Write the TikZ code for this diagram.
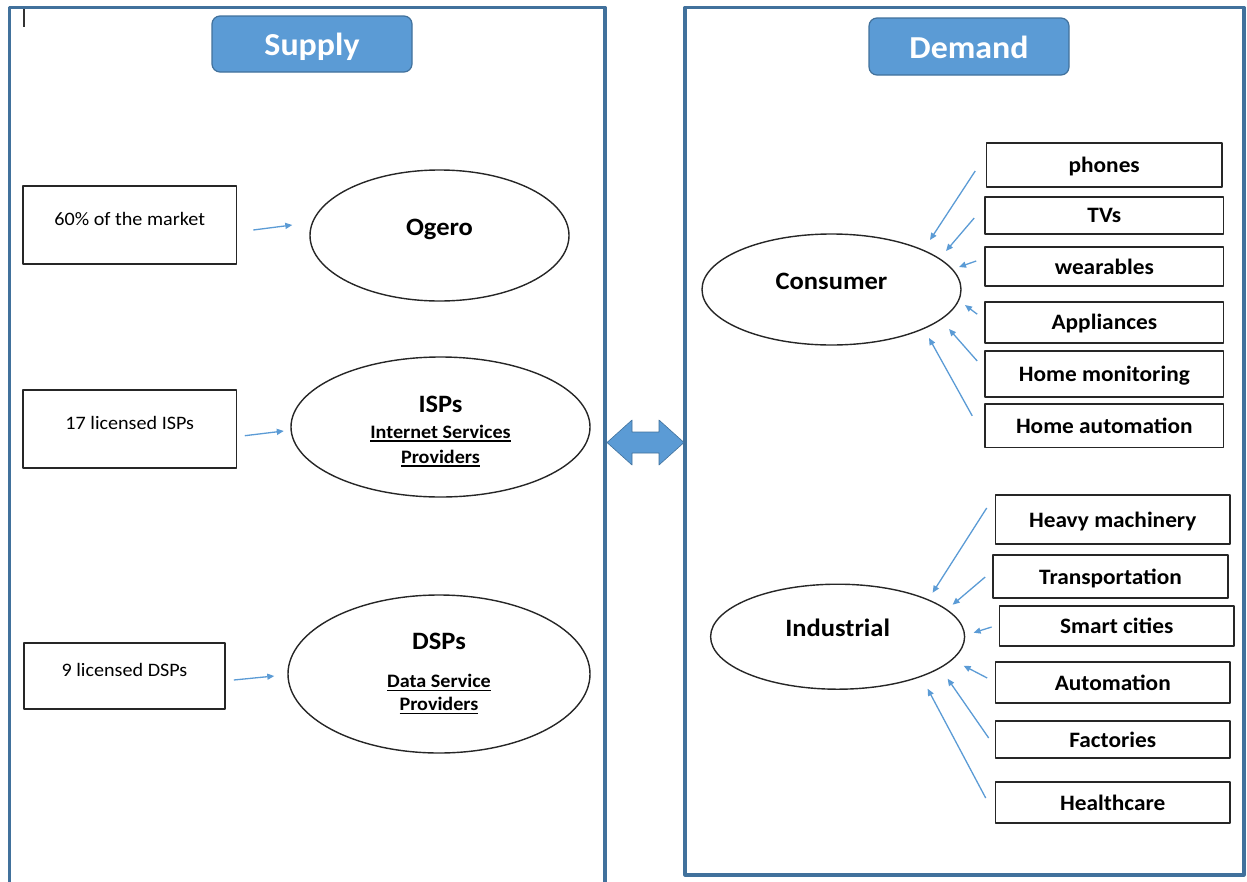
\documentclass[tikz,border=0pt]{standalone}
\usepackage{fontspec}
\setmainfont[FakeStretch=1.06]{Carlito}
\usetikzlibrary{arrows.meta,shapes.geometric}
\definecolor{frameblue}{HTML}{41719C}
\definecolor{fillblue}{HTML}{5B9BD5}
\newcommand{\undertext}[1]{\setbox0\hbox{#1}\rlap{\vrule width\wd0 height -2pt depth 3.5pt}\box0}

\begin{document}
\begin{tikzpicture}[x=1pt,y=-1pt,line join=round,
  panel/.style={draw=frameblue,line width=3.2pt},
  header/.style={draw=frameblue,fill=fillblue,line width=1.2pt,rounded corners=8pt,text=white,inner sep=0pt,font=\fontsize{32}{36}\selectfont\bfseries,text height=29pt,text depth=6pt},
  leftbox/.style={draw=black!85,line width=1.6pt,inner sep=0pt,font=\fontsize{19}{22}\selectfont,text height=10pt,text depth=10pt},
  oval/.style={ellipse,draw=black!85,line width=1.4pt,inner sep=0pt,align=center},
  single/.style={font=\fontsize{25}{26}\selectfont\bfseries,text height=12pt,text depth=12pt},
  itembox/.style={draw=black!85,line width=1.6pt,inner sep=0pt,font=\fontsize{22}{24}\selectfont\bfseries,text height=17pt,text depth=2pt},
  feed/.style={draw=fillblue,line width=1.3pt,-{Triangle[length=7pt,width=6pt]}}]
\useasboundingbox (0,0) rectangle (1247,881);
% panels
\draw[panel] (9.5,7.5) rectangle (605,895);
\draw[panel] (685,7.5) rectangle (1244,875);
\draw[line width=1.2pt,black!80] (24,9) -- (24,27);
\node[header,minimum width=200pt,minimum height=56pt] (supply) at (312,44) {Supply};
\node[header,minimum width=200pt,minimum height=57pt] (demand) at (969,46.5) {Demand};
% supply side
\node[leftbox,minimum width=213.5pt,minimum height=78pt] (share) at (129.75,225) {60\% of the market};
\node[leftbox,minimum width=213.5pt,minimum height=77.7pt] (isplic) at (129.75,429) {17 licensed ISPs};
\node[leftbox,minimum width=201pt,minimum height=66pt] (dsplic) at (124.5,676) {9 licensed DSPs};
\node[oval,single,minimum width=259pt,minimum height=131pt] (ogero) at (439.5,235.5) {Ogero};
\node[oval,minimum width=299pt,minimum height=140pt,font=\fontsize{19}{25}\selectfont\bfseries] (isp) at (440.5,427) {{\fontsize{25}{26}\selectfont\rule{0pt}{25pt}ISPs}\\[1pt]\undertext{Internet Services}\\\undertext{Providers}};
\node[oval,minimum width=302pt,minimum height=158pt,font=\fontsize{19}{23}\selectfont\bfseries] (dsp) at (439,674) {{\fontsize{25}{26}\selectfont DSPs}\\[15pt]\undertext{Data Service}\\\undertext{Providers}};
\draw[feed] ([shift={(16,5)}]share.east) -- ([shift={(-17,-10.5)}]ogero.west);
\draw[feed] ([shift={(7.5,6.7)}]isplic.east) -- ([shift={(-6.5,4)}]isp.west);
\draw[feed] ([shift={(8,4)}]dsplic.east) -- ([shift={(-13,2)}]dsp.west);
% link between the panels
\fill[fillblue,draw=frameblue,line width=0.6pt] (607,442.5) -- (632,420) -- (632,432) -- (659,432) -- (659,420) -- (684,442.5) -- (659,465) -- (659,453) -- (632,453) -- (632,465) -- cycle;
% demand side: consumer
\node[oval,single,minimum width=259pt,minimum height=111pt] (cons) at (831.5,289.5) {Consumer};
\node[itembox,minimum width=235.2pt,minimum height=44pt] (phones) at (1104.2,165) {phones};
\node[itembox,minimum width=238.6pt,minimum height=37.3pt] (tvs) at (1104.3,215.4) {TVs};
\node[itembox,minimum width=238.6pt,minimum height=39pt] (wear) at (1104.3,266.5) {wearables};
\node[itembox,minimum width=238.6pt,minimum height=41pt] (appl) at (1104.3,322.2) {Appliances};
\node[itembox,minimum width=238.6pt,minimum height=46pt] (homemon) at (1104.3,373.7) {Home monitoring};
\node[itembox,minimum width=238.6pt,minimum height=43.7pt] (homeaut) at (1104.3,425.8) {Home automation};
\draw[feed] ([shift={(-10.6,6)}]phones.west) -- ([shift={(98.5,-49.5)}]cons.center);
\draw[feed] ([shift={(-10,2.6)}]tvs.west) -- ([shift={(114.5,-38.5)}]cons.center);
\draw[feed] ([shift={(-8,-5.5)}]wear.west) -- ([shift={(127.5,-22.5)}]cons.center);
\draw[feed] ([shift={(-7,-8)}]appl.west) -- ([shift={(133.5,15.5)}]cons.center);
\draw[feed] ([shift={(-7,-12.7)}]homemon.west) -- ([shift={(117.5,39.5)}]cons.center);
\draw[feed] ([shift={(-12,-10)}]homeaut.west) -- ([shift={(97.5,48.5)}]cons.center);
% demand side: industrial
\node[oval,single,minimum width=254pt,minimum height=105pt] (ind) at (837.6,636.7) {Industrial};
\node[itembox,minimum width=234.5pt,minimum height=49pt] (heavy) at (1112.75,519.5) {Heavy machinery};
\node[itembox,minimum width=235pt,minimum height=43pt] (transp) at (1110.5,576.5) {Transportation};
\node[itembox,minimum width=234.6pt,minimum height=40pt] (smart) at (1116.7,626) {Smart cities};
\node[itembox,minimum width=234.5pt,minimum height=41pt] (autom) at (1112.75,682.5) {Automation};
\node[itembox,minimum width=234.5pt,minimum height=37pt] (fact) at (1112.75,739.5) {Factories};
\node[itembox,minimum width=234.5pt,minimum height=41pt] (health) at (1112.75,802.5) {Healthcare};
\draw[feed] ([shift={(-8,-11.5)}]heavy.west) -- ([shift={(95,-44)}]ind.center);
\draw[feed] ([shift={(-7,0.5)}]transp.west) -- ([shift={(115,-32)}]ind.center);
\draw[feed] ([shift={(-7,1)}]smart.west) -- ([shift={(136,-4)}]ind.center);
\draw[feed] ([shift={(-7.5,-4.5)}]autom.west) -- ([shift={(126,29)}]ind.center);
\draw[feed] ([shift={(-6,-1.5)}]fact.west) -- ([shift={(110,42)}]ind.center);
\draw[feed] ([shift={(-9,-4.5)}]health.west) -- ([shift={(90,52)}]ind.center);
\end{tikzpicture}
\end{document}
